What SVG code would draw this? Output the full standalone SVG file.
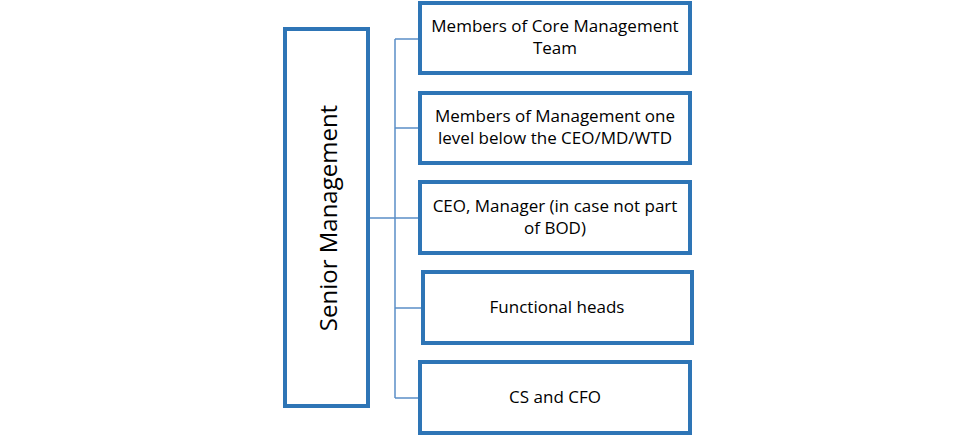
<svg xmlns="http://www.w3.org/2000/svg" width="975" height="436" viewBox="0 0 975 436">
<style>
.b{fill:#fff;stroke:#2e75b6;stroke-width:4}
.t{font-family:"Open Sans",sans-serif;font-size:17px;fill:#000;text-anchor:middle}
.c{fill:none;stroke:#5b8fc7;stroke-width:1.5}
</style>
<rect width="975" height="436" fill="#fff"/>
<g id="connectors">
<path class="c" d="M368 218H395M395 39V398M395 39H420M395 128H420M395 218H420M395 308H423M395 398H420"/>
</g>
<g id="senior"><rect class="b" x="285" y="29" width="83" height="377"/>
<text class="t" style="font-size:24px" transform="translate(337,218) rotate(-90)">Senior Management</text></g>
<g id="n1"><rect class="b" x="420" y="3" width="270" height="70"/>
<text class="t" x="555" y="32">Members of Core Management</text><text class="t" x="555" y="54">Team</text></g>
<g id="n2"><rect class="b" x="420" y="93" width="270" height="70"/>
<text class="t" x="555" y="122">Members of Management one</text><text class="t" x="555" y="144">level below the CEO/MD/WTD</text></g>
<g id="n3"><rect class="b" x="420" y="182" width="270" height="71"/>
<text class="t" x="555" y="212">CEO, Manager (in case not part</text><text class="t" x="555" y="234">of BOD)</text></g>
<g id="n4"><rect class="b" x="423" y="272" width="269" height="71"/>
<text class="t" x="557" y="313">Functional heads</text></g>
<g id="n5"><rect class="b" x="420" y="362" width="270" height="71"/>
<text class="t" x="555" y="403">CS and CFO</text></g>
</svg>
